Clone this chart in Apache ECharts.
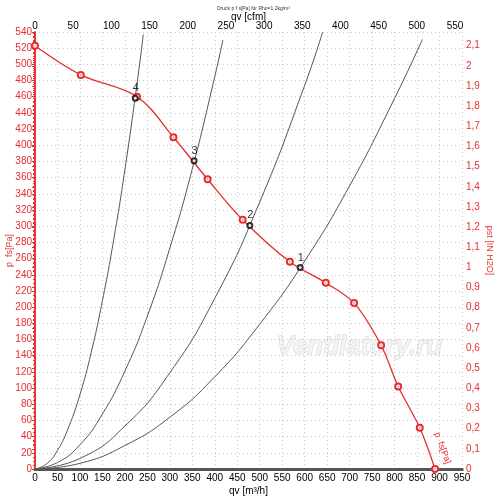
<!DOCTYPE html>
<html>
<head>
    <meta charset="utf-8">
    <title>Druck p fs</title>
    <script src="https://cdn.jsdelivr.net/npm/echarts@6/dist/echarts.min.js"></script>
    <style>
        html, body { margin: 0; padding: 0; background: #fff; }
        #main { width: 500px; height: 500px; }
    </style>
</head>
<body>
<div id="main"></div>
<script type="text/javascript">
    // Kennlinie p fs [Pa] über qv [m³/h]
    var fanQ = [0, 102, 227, 308, 384, 462, 567, 647, 710, 770, 808, 856, 890];
    var fanP = [523, 487, 460, 410, 358, 308, 256, 230, 205, 153, 102, 51, 0];

    // Anlagenkennlinien
    var sys4Q = [0, 25, 50, 75, 100, 125, 150, 175, 200, 225, 241];
    var sys4P = [0, 6, 23, 52, 92, 144, 208, 283, 370, 468, 537];
    var sys3Q = [0, 50, 100, 150, 200, 250, 300, 350, 400, 418];
    var sys3P = [0, 8, 30, 68, 121, 189, 273, 371, 485, 530];
    var sys2Q = [0, 100, 200, 300, 400, 500, 600, 640];
    var sys2P = [0, 13, 53, 119, 211, 330, 474, 540];
    var sys1Q = [0, 100, 200, 300, 400, 500, 600, 700, 800, 862];
    var sys1P = [0, 7, 29, 64, 114, 179, 257, 350, 458, 531];

    // Betriebspunkte
    var opQ = [590, 478, 354, 223];
    var opP = [249, 301, 381, 458];
    var opNames = ['1', '2', '3', '4'];

    var red = '#e62e2e';
    var gridColor = '#c8c8c8';

    function pairs(xs, ys) {
        var out = [];
        for (var i = 0; i < xs.length; i++) {
            out.push([xs[i], ys[i]]);
        }
        return out;
    }

    var sysList = [[sys1Q, sys1P], [sys2Q, sys2P], [sys3Q, sys3P], [sys4Q, sys4P]];
    var series = [];
    for (var s = 0; s < sysList.length; s++) {
        series.push({
            type: 'line',
            data: pairs(sysList[s][0], sysList[s][1]),
            smooth: true,
            showSymbol: false,
            silent: true,
            lineStyle: { color: '#555', width: 1 },
            z: 2
        });
    }
    series.push({
        name: 'p fs[Pa]',
        type: 'line',
        data: pairs(fanQ, fanP),
        smooth: 0.35,
        symbol: 'emptyCircle',
        symbolSize: 6,
        itemStyle: { color: red, borderWidth: 1 },
        lineStyle: { color: red, width: 1.3 },
        z: 3
    });
    // Punkt in der Mitte der Marker
    series.push({
        type: 'scatter',
        data: pairs(fanQ, fanP),
        symbol: 'circle',
        symbolSize: 1.5,
        silent: true,
        itemStyle: { color: red },
        z: 4
    });
    var opData = [];
    for (var k = 0; k < opQ.length; k++) {
        opData.push({ value: [opQ[k], opP[k]], name: opNames[k] });
    }
    series.push({
        type: 'scatter',
        data: opData,
        symbol: 'emptyCircle',
        symbolSize: 5,
        itemStyle: { color: '#000', borderWidth: 1 },
        label: {
            show: true,
            position: [1, -12],
            formatter: '{b}',
            color: '#000',
            fontSize: 11,
            fontFamily: 'Arial'
        },
        z: 5
    });

    var myChart = echarts.init(document.getElementById('main'));
    myChart.setOption({
        animation: false,
        textStyle: { fontFamily: 'Arial, Liberation Sans, sans-serif' },
        title: {
            text: 'Druck p f s[Pa] für Rho=1,2kg/m³',
            left: 212,
            top: 1,
            textStyle: { fontSize: 5, fontWeight: 'normal', color: '#333' }
        },
        grid: { left: 35, right: 38, top: 32, bottom: 31, containLabel: false, outerBoundsMode: 'none' },
        xAxis: [{
            type: 'value',
            position: 'bottom',
            min: 0,
            max: 950,
            interval: 50,
            name: 'qv [m³/h]',
            nameLocation: 'middle',
            nameGap: 17,
            nameMoveOverlap: false,
            nameTextStyle: { color: '#000', fontSize: 10 },
            axisLine: { lineStyle: { color: '#555', width: 3 } },
            axisTick: { show: false },
            axisLabel: { color: '#000', fontSize: 10, margin: 4 },
            splitLine: { show: true, lineStyle: { color: gridColor, type: [1, 3] } }
        }, {
            type: 'value',
            position: 'top',
            min: 0,
            max: 950 / 1.699,
            interval: 50,
            name: 'qv [cfm]',
            nameLocation: 'middle',
            nameGap: 10,
            nameMoveOverlap: false,
            nameTextStyle: { color: '#000', fontSize: 10 },
            axisLine: { lineStyle: { color: '#555', width: 3 } },
            axisTick: { show: false },
            axisLabel: { color: '#000', fontSize: 10, margin: 1, showMaxLabel: false },
            splitLine: { show: false }
        }],
        yAxis: [{
            type: 'value',
            position: 'left',
            min: 0,
            max: 540,
            interval: 20,
            name: 'p  fs[Pa]',
            nameLocation: 'middle',
            nameGap: 21,
            nameMoveOverlap: false,
            nameRotate: 90,
            nameTextStyle: { color: red, fontSize: 9 },
            axisLine: { show: true, lineStyle: { color: red, width: 1.5 } },
            axisTick: { show: true, length: 3, lineStyle: { color: red } },
            minorTick: { show: true, splitNumber: 4, length: 2, lineStyle: { color: red } },
            axisLabel: { color: red, fontSize: 10, margin: 3 },
            splitLine: { show: true, lineStyle: { color: gridColor, type: [1, 3] } }
        }, {
            type: 'value',
            position: 'right',
            min: 0,
            max: 540 / 249.09,
            interval: 0.1,
            name: 'pst [IN H2O]',
            nameLocation: 'middle',
            nameGap: 23,
            nameMoveOverlap: false,
            nameRotate: -90,
            nameTextStyle: { color: red, fontSize: 9 },
            axisLine: { show: true, lineStyle: { color: red, width: 1.5 } },
            axisTick: { show: true, length: 3, inside: true, lineStyle: { color: red } },
            minorTick: { show: true, splitNumber: 5, length: 2, lineStyle: { color: red } },
            axisLabel: { color: red, fontSize: 10, margin: 4, showMaxLabel: false,
                formatter: function (v) {
                    return String(Math.round(v * 10) / 10).replace('.', ',');
                } },
            splitLine: { show: false }
        }],
        graphic: [{
            type: 'text',
            left: 276,
            top: 333,
            silent: true,
            style: {
                text: 'Ventilatory.ru',
                font: 'italic bold 26px Arial, Liberation Sans, sans-serif',
                fill: '#f4f4f4',
                stroke: '#d2d2d2',
                lineWidth: 1
            },
            z: 0
        }, {
            type: 'text',
            x: 441,
            y: 431,
            rotation: -70 * Math.PI / 180,
            silent: true,
            style: {
                text: 'p  fs[Pa]',
                font: '9px Arial, Liberation Sans, sans-serif',
                fill: red
            }
        }],
        series: series
    });
</script>
</body>
</html>
